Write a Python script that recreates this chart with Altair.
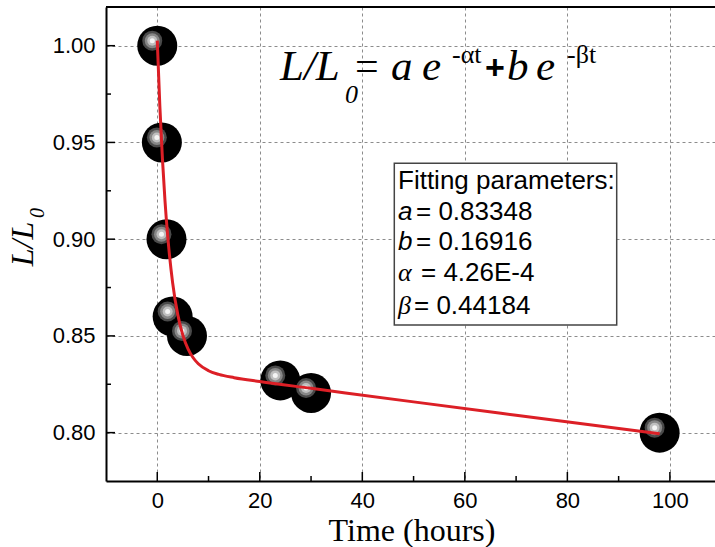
import altair as alt
import pandas as pd

# ---- data ----
time_h = [0, 0.9, 1.8, 3.0, 5.8, 24, 30, 98]
ratio = [1.000, 0.950, 0.900, 0.860, 0.850, 0.827, 0.8205, 0.800]

# fitted curve
fit_t = [0, 0.5, 1, 1.5, 2, 3, 4, 5, 6, 7, 8, 10, 12, 15, 20, 30, 50, 70, 98]
fit_v = [1.0026, 0.9689, 0.9419, 0.9201, 0.9027, 0.8774, 0.8610, 0.8503, 0.8433,
         0.8387, 0.8356, 0.8320, 0.8301, 0.8284, 0.8264, 0.8229, 0.8159, 0.8090, 0.7994]

x_ticks = [0, 20, 40, 60, 80, 100]
x_minor = [10, 30, 50, 70, 90]
y_ticks = [0.80, 0.85, 0.90, 0.95, 1.00]
y_minor = [0.825, 0.875, 0.925, 0.975]

param_names = ["a", "b", "α", "β"]
param_values = ["0.83348", "0.16916", "4.26E-4", "0.44184"]

# ---- layout ----
W, H = 609, 474
LEFT, TOP = 106, 7

pts = pd.DataFrame({"t": time_h, "v": ratio})
fit = pd.DataFrame({"t": fit_t, "v": fit_v})

xs = alt.Scale(domain=[-10, 108.8], nice=False, zero=False)
ys = alt.Scale(domain=[0.775, 1.02], nice=False, zero=False)

xaxis = alt.Axis(values=x_ticks, title=None, labelFont="Liberation Sans", labelFontSize=22,
                 labelColor="black", labelPadding=9, ticks=False, domainColor="black",
                 domainWidth=2, grid=True, gridColor="#8c8c8c", gridDash=[3, 3], gridWidth=1,
                 labelOverlap=False, labelFlush=False)
yaxis = alt.Axis(values=y_ticks, format=".2f", title=None, labelFont="Liberation Sans",
                 labelFontSize=22, labelColor="black", labelPadding=11, ticks=False,
                 domainColor="black", domainWidth=2, grid=True, gridColor="#8c8c8c",
                 gridDash=[3, 3], gridWidth=1, labelOverlap=False, labelFlush=False)


def X():
    return alt.X("t:Q", scale=xs, axis=xaxis)


def Y():
    return alt.Y("v:Q", scale=ys, axis=yaxis)


one = pd.DataFrame({"k": [0]})


def ann(txt, px, py, size, font="Liberation Serif", style="normal", weight="normal",
        angle=0, align="left"):
    return alt.Chart(pd.DataFrame({"s": [txt]})).mark_text(
        font=font, fontSize=size, fontStyle=style, fontWeight=weight, angle=angle,
        align=align, baseline="alphabetic", color="black"
    ).encode(x=alt.value(px - LEFT), y=alt.value(py - TOP), text="s:N")


base = alt.Chart(pts).mark_point(opacity=0).encode(x=X(), y=Y())

# inward ticks
xt_major = alt.Chart(pd.DataFrame({"t": x_ticks})).mark_rule(color="black", strokeWidth=1.5).encode(
    x=X(), y=alt.value(H), y2=alt.value(H - 9))
xt_minor = alt.Chart(pd.DataFrame({"t": x_minor})).mark_rule(color="black", strokeWidth=1.5).encode(
    x=X(), y=alt.value(H), y2=alt.value(H - 5))
yt_major = alt.Chart(pd.DataFrame({"v": y_ticks})).mark_rule(color="black", strokeWidth=1.5).encode(
    y=Y(), x=alt.value(0), x2=alt.value(9))
yt_minor = alt.Chart(pd.DataFrame({"v": y_minor})).mark_rule(color="black", strokeWidth=1.5).encode(
    y=Y(), x=alt.value(0), x2=alt.value(5))

top_border = alt.Chart(one).mark_rule(color="black", strokeWidth=2).encode(
    x=alt.value(0), x2=alt.value(W), y=alt.value(0))

# parameter box
box = alt.Chart(one).mark_rect(fill="white", stroke="#444444", strokeWidth=1.5).encode(
    x=alt.value(394.3 - LEFT), x2=alt.value(616.7 - LEFT),
    y=alt.value(163.3 - TOP), y2=alt.value(325 - TOP))

# balls (Vega circle: diameter = sqrt(size))
balls = alt.Chart(pts).mark_circle(color="black", opacity=1, size=40 * 40).encode(x=X(), y=Y())
hl = []
for d, c in [(20, "#4a4a4a"), (15, "#878787"), (10, "#bfbfbf"), (5, "#f4f4f4")]:
    hl.append(alt.Chart(pts).mark_circle(color=c, opacity=1, size=d * d,
                                         xOffset=-5, yOffset=-5).encode(x=X(), y=Y()))

line = alt.Chart(fit).mark_line(color="#dc1f26", strokeWidth=3, interpolate="monotone").encode(
    x=X(), y=Y())

# titles
xtitle = ann("Time (hours)", 412, 541, 32, align="center")
ytitle = ann("L/L", 33, 244, 32, style="italic", angle=270, align="center")
ysub = ann("0", 44, 213, 20, style="italic", angle=270, align="center")

# equation
eq = [
    ann("L/L", 280, 80, 43, style="italic"),
    ann("0", 345, 103, 26, style="italic"),
    ann("=", 355, 80, 42),
    ann("a", 391, 80, 43, style="italic"),
    ann("e", 422, 80, 43, style="italic"),
    ann("-αt", 452, 63, 26),
    ann("+", 485, 79, 34, font="Liberation Sans", weight="bold"),
    ann("b", 507, 80, 43, style="italic"),
    ann("e", 536, 80, 43, style="italic"),
    ann("-βt", 567, 63, 26),
]

# parameter texts
rows_y = [220, 250, 281, 314]
eq_x = [416, 416, 421, 414]
params = [ann("Fitting parameters:", 398, 189, 26, font="Liberation Sans")]
for i, (nm, val) in enumerate(zip(param_names, param_values)):
    f = "Liberation Sans" if nm in ("a", "b") else "Liberation Serif"
    params.append(ann(nm, 398, rows_y[i], 26, font=f, style="italic"))
    params.append(ann("= " + val, eq_x[i], rows_y[i], 26, font="Liberation Sans"))

chart = alt.layer(
    base, box, xt_major, xt_minor, yt_major, yt_minor, top_border,
    balls, *hl, line, xtitle, ytitle, ysub, *eq, *params
).properties(
    width=W, height=H,
    autosize=alt.AutoSizeParams(type="none"),
    padding={"left": LEFT, "top": TOP, "right": 0, "bottom": 547 - TOP - H},
    background="white",
).configure_view(stroke=None)

chart.save("out.html", embed_options={"renderer": "svg", "actions": False})
